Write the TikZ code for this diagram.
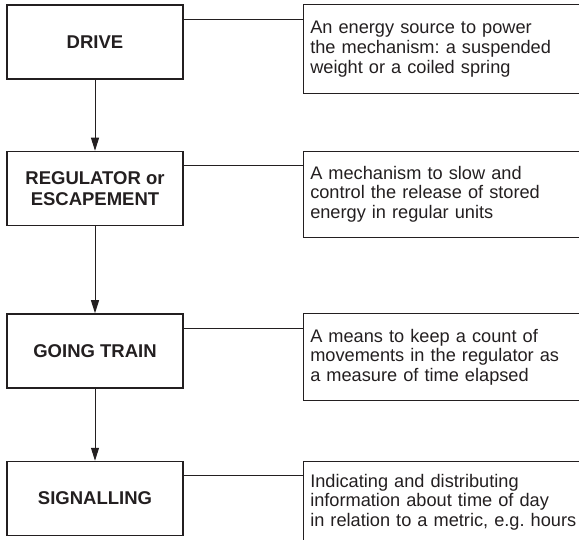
\documentclass[tikz,border=0pt]{standalone}
\usepackage{fontspec}
\setmainfont{Liberation Sans}
\usetikzlibrary{positioning,arrows.meta}

\definecolor{ink}{HTML}{231F20}
\frenchspacing

\tikzset{
	stage/.style={draw=ink, line width=1.5pt, minimum width=176pt, minimum height=74pt,
		inner sep=0pt, align=center, text=ink, font=\bfseries\fontsize{18.5}{20.5}\selectfont},
	note/.style={draw=ink, line width=1pt, text width=290pt, inner xsep=7pt, inner ysep=0pt,
		align=left, text=ink, font=\fontsize{18.2}{19.8}\selectfont},
	link/.style={draw=ink, line width=1pt},
	flow/.style={draw=ink, line width=1pt, -{Triangle[length=13pt,width=8pt]}}
}

\begin{document}
\begin{tikzpicture}
	\useasboundingbox (0pt,0pt) rectangle (579pt,-540pt);
	\node[stage] (drive) at (95pt,-42pt) {DRIVE};
	\node[stage, below=71pt of drive] (regulator) {REGULATOR or\\ESCAPEMENT};
	\node[stage, below=87pt of regulator] (train) {GOING TRAIN};
	\node[stage, below=72pt of train] (signal) {SIGNALLING};
	\node[note, minimum height=89pt, right=119pt of drive.north east, anchor=north west] (drivenote)
		{An energy source to power\\the mechanism: a suspended\\weight or a coiled spring};
	\node[note, minimum height=86pt, right=119pt of regulator.north east, anchor=north west] (regulatornote)
		{A mechanism to slow and\\control the release of stored\\energy in regular units};
	\node[note, minimum height=87pt, right=119pt of train.north east, anchor=north west] (trainnote)
		{A means to keep a count of\\movements in the regulator as\\a measure of time elapsed};
	\node[note, minimum height=82pt, right=119pt of signal.north east, anchor=north west] (signalnote)
		{Indicating and distributing\\information about time of day\\in relation to a metric, e.g. hours};
	\draw[flow] (drive) -- (regulator);
	\draw[flow] (regulator) -- (train);
	\draw[flow] (train) -- (signal);
	\draw[link] ([yshift=-15pt]drive.north east) -- ([yshift=-15pt]drivenote.north west);
	\draw[link] ([yshift=-15pt]regulator.north east) -- ([yshift=-15pt]regulatornote.north west);
	\draw[link] ([yshift=-15pt]train.north east) -- ([yshift=-15pt]trainnote.north west);
	\draw[link] ([yshift=-15pt]signal.north east) -- ([yshift=-15pt]signalnote.north west);
\end{tikzpicture}
\end{document}
